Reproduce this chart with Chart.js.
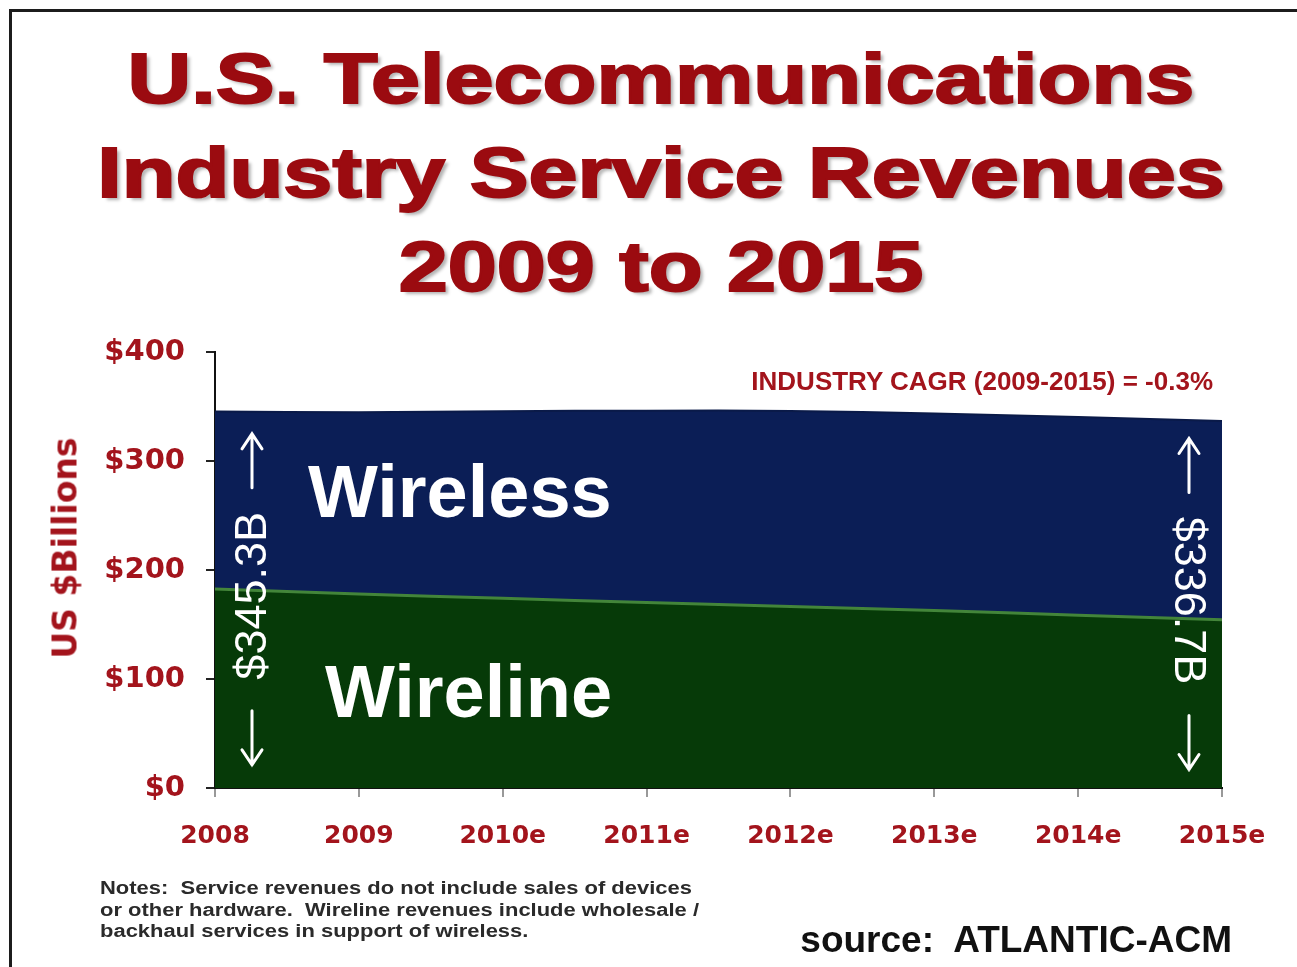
<!DOCTYPE html>
<html>
<head>
<meta charset="utf-8">
<title>U.S. Telecommunications Industry Service Revenues</title>
<script src="https://cdn.jsdelivr.net/npm/chart.js@4.4.1/dist/chart.umd.min.js"></script>
<style>
  html, body { margin: 0; padding: 0; background: #fff; }
  #page { position: relative; width: 1297px; height: 967px; overflow: hidden; background: #fff; }
  #frame { position: absolute; left: 9px; top: 9px; width: 1300px; height: 970px;
           border-top: 3px solid #1c1c1c; border-left: 3px solid #1c1c1c; }
  #chart { position: absolute; left: 0; top: 0; }
  .txt { position: absolute; white-space: nowrap; font-family: "Liberation Sans", Arial, sans-serif; }
  #title { left: 25px; width: 1272px; top: 32px; text-align: center; font-size: 70px; line-height: 94px;
           font-weight: bold; color: #9b0b10; transform: scaleX(1.26); transform-origin: 50% 0;
           -webkit-text-stroke: 2px #9b0b10; text-shadow: 3px 3px 3px rgba(0,0,0,0.3); }
  #ytitle { left: 65px; top: 548px; font-family: "DejaVu Sans", sans-serif; font-weight: bold; font-size: 33px;
            color: #a3141c; transform: translate(-50%, -50%) rotate(-90deg); }
  #cagr { right: 84px; top: 368px; font-size: 26px; line-height: 26px; font-weight: bold; color: #a3141c; }
  .area-label { color: #fff; font-weight: bold; font-size: 74px; line-height: 74px; }
  #notes { left: 100px; top: 878px; font-size: 18px; line-height: 21.5px; font-weight: bold; color: #2a2a2a;
           transform: scaleX(1.22); transform-origin: 0 0; }
  #source { right: 65px; top: 921px; font-size: 37px; line-height: 37px; font-weight: bold; color: #111; }
</style>
</head>
<body>
<div id="page">
  <div id="frame"></div>
  <canvas id="chart" width="1297" height="967"></canvas>
  <div id="title" class="txt">U.S. Telecommunications<br>Industry Service Revenues<br>2009 to 2015</div>
  <div id="ytitle" class="txt">US $Billions</div>
  <div id="cagr" class="txt">INDUSTRY CAGR (2009-2015) = -0.3%</div>
  <div class="txt area-label" style="left:308px; top:455px;">Wireless</div>
  <div class="txt area-label" style="left:325px; top:655px;">Wireline</div>
  <div id="notes" class="txt">Notes:&nbsp; Service revenues do not include sales of devices<br>or other hardware.&nbsp; Wireline revenues include wholesale /<br>backhaul services in support of wireless.</div>
  <div id="source" class="txt">source:&nbsp; ATLANTIC-ACM</div>
</div>

<script>
// years on the x axis
const years = ["2008", "2009", "2010e", "2011e", "2012e", "2013e", "2014e", "2015e"];
// service revenues, $ billions
const wireline = [182.6, 178.0, 174.0, 170.2, 166.5, 162.8, 158.6, 154.3];
const wireless = [162.7, 166.8, 171.6, 176.0, 179.3, 180.7, 181.8, 182.4];
// y axis ticks
const yTicks = [0, 100, 200, 300, 400];

const RED = "#a3141c";

// total revenue label with arrows at the first and last year
const totalLabels = {
  id: "totalLabels",
  afterDatasetsDraw(chart) {
    const { ctx, scales: { x, y } } = chart;
    const ends = [
      { i: 0, dx: 37, rot: -Math.PI / 2 },
      { i: years.length - 1, dx: -33, rot: Math.PI / 2 }
    ];
    ctx.save();
    ctx.strokeStyle = "#fff";
    ctx.fillStyle = "#fff";
    ctx.lineWidth = 3;
    ctx.lineCap = "round";
    ends.forEach(e => {
      const total = wireline[e.i] + wireless[e.i];
      const cx = x.getPixelForValue(e.i) + e.dx;
      const top = y.getPixelForValue(total);
      const bottom = y.getPixelForValue(0);
      const mid = (top + bottom) / 2;

      ctx.save();
      ctx.translate(cx, mid - 4);
      ctx.rotate(e.rot);
      ctx.font = "45px 'Liberation Sans', Arial, sans-serif";
      ctx.textAlign = "center";
      ctx.textBaseline = "middle";
      ctx.fillText("$" + total.toFixed(1) + "B", 0, 2);
      ctx.restore();

      arrow(ctx, cx, mid - 112, mid - 166);
      arrow(ctx, cx, mid + 111, mid + 165);
    });
    ctx.restore();
  }
};

function arrow(ctx, x, y0, y1) {
  const dir = Math.sign(y1 - y0);
  ctx.beginPath();
  ctx.moveTo(x, y0);
  ctx.lineTo(x, y1);
  ctx.moveTo(x - 10, y1 - dir * 15);
  ctx.lineTo(x, y1);
  ctx.lineTo(x + 10, y1 - dir * 15);
  ctx.stroke();
}

new Chart(document.getElementById("chart"), {
  type: "line",
  data: {
    labels: years,
    datasets: [
      {
        label: "Wireline",
        data: wireline,
        fill: "origin",
        backgroundColor: "#063a08",
        borderColor: "#43853a",
        borderWidth: 3,
        pointRadius: 0,
        tension: 0.4
      },
      {
        label: "Wireless",
        data: wireless,
        fill: "-1",
        backgroundColor: "#0b1e56",
        borderColor: "#0a1a48",
        borderWidth: 2,
        pointRadius: 0,
        tension: 0.4
      }
    ]
  },
  options: {
    responsive: false,
    devicePixelRatio: 1,
    animation: false,
    layout: { padding: { left: 0, top: 352, right: 75, bottom: 0 } },
    plugins: { legend: { display: false }, tooltip: { enabled: false }, title: { display: false } },
    scales: {
      x: {
        type: "category",
        offset: false,
        grid: { drawOnChartArea: false, tickLength: 9, color: "#999", lineWidth: 2 },
        border: { color: "#111", width: 2 },
        ticks: {
          color: RED,
          autoSkip: false,
          maxRotation: 0,
          padding: 24,
          font: { family: "'DejaVu Sans', sans-serif", weight: "bold", size: 25 }
        },
        afterFit(s) { s.height = 179; }
      },
      y: {
        stacked: true,
        min: yTicks[0],
        max: yTicks[yTicks.length - 1],
        afterBuildTicks(s) { s.ticks = yTicks.map(v => ({ value: v })); },
        grid: { drawOnChartArea: false, tickLength: 9, color: "#222", lineWidth: 2 },
        border: { color: "#111", width: 2 },
        ticks: {
          color: RED,
          padding: 21,
          callback: v => "$" + v,
          font: { family: "'DejaVu Sans', sans-serif", weight: "bold", size: 29 }
        },
        afterFit(s) { s.width = 215; }
      }
    }
  },
  plugins: [totalLabels]
});
</script>
</body>
</html>
